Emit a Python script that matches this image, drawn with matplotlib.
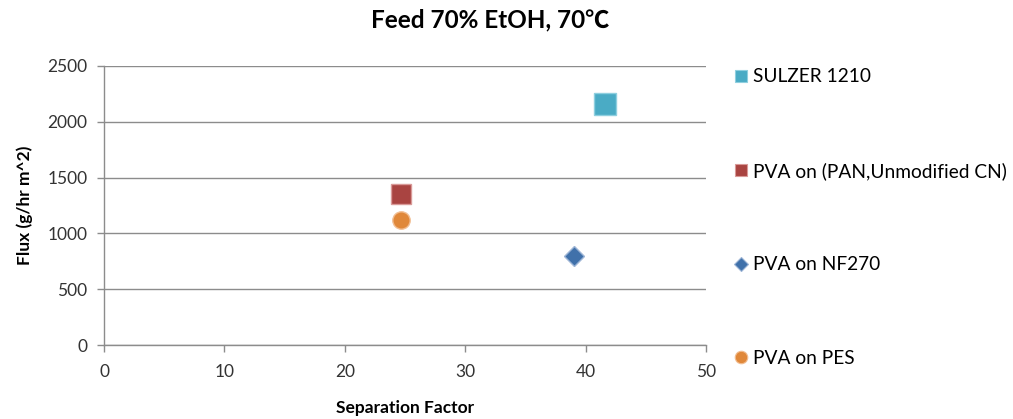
import matplotlib
matplotlib.use("Agg")
import matplotlib.pyplot as plt
from matplotlib.lines import Line2D

plt.rcParams['font.family'] = ['Lato', 'DejaVu Sans']

series_names = ["SULZER 1210", "PVA on (PAN,Unmodified CN)", "PVA on NF270", "PVA on PES"]
sep_factor = [41.6, 24.7, 39.0, 24.7]
flux = [2160, 1355, 800, 1120]
markers = ["s", "s", "D", "o"]
colors = ["#4AABC5", "#A94441", "#4071AA", "#E0883A"]
edge_colors = ["#8FCFDF", "#D99A98", "#9DB5D6", "#F2BE92"]
sizes = [15.5, 14.5, 10, 12.5]
leg_sizes = [9, 9, 7, 9]

x_ticks = [0, 10, 20, 30, 40, 50]
y_ticks = [0, 500, 1000, 1500, 2000, 2500]

fig = plt.figure(figsize=(10.13, 4.19), dpi=100)
ax = fig.add_axes([0.1027, 0.1766, 0.5943, 0.666])

for i in range(len(series_names)):
    ax.plot([sep_factor[i]], [flux[i]], linestyle="none", marker=markers[i],
            markersize=sizes[i], markerfacecolor=colors[i],
            markeredgecolor=edge_colors[i], markeredgewidth=1.0, zorder=3)

ax.set_xlim(0, 50)
ax.set_ylim(0, 2500)
ax.set_xticks(x_ticks)
ax.set_yticks(y_ticks)
ax.yaxis.grid(True, color="#8C8C8C", linewidth=1.0)
ax.set_axisbelow(True)
for s in ["top", "right"]:
    ax.spines[s].set_visible(False)
for s in ["left", "bottom"]:
    ax.spines[s].set_color("#8C8C8C")
    ax.spines[s].set_linewidth(1.0)
ax.tick_params(axis="both", direction="out", length=5, width=1.0, color="#8C8C8C",
               labelsize=12.5, labelcolor="#333333")
ax.tick_params(axis="x", pad=9)
ax.tick_params(axis="y", pad=7)

ax.set_xlabel("Separation Factor", fontsize=12.5, fontweight="bold", labelpad=14)
ax.set_ylabel("Flux (g/hr m^2)", fontsize=12.5, fontweight="bold", labelpad=10)
fig.text(0.484, 0.952, "Feed 70% EtOH, 70\u2103", ha="center", va="center",
         fontsize=17.5, fontweight="bold", family=["Lato", "Noto Sans CJK SC", "DejaVu Sans"])

handles = [Line2D([], [], linestyle="none", marker=markers[i], markersize=leg_sizes[i],
                  markerfacecolor=colors[i], markeredgecolor=edge_colors[i],
                  markeredgewidth=0.8) for i in range(len(series_names))]
fig.legend(handles, series_names, loc="upper left", bbox_to_anchor=(0.715, 0.86),
           frameon=False, fontsize=13.8, handlelength=0.7, handletextpad=0.3,
           labelspacing=4.0, borderpad=0)

fig.savefig("out.png", dpi=100)
